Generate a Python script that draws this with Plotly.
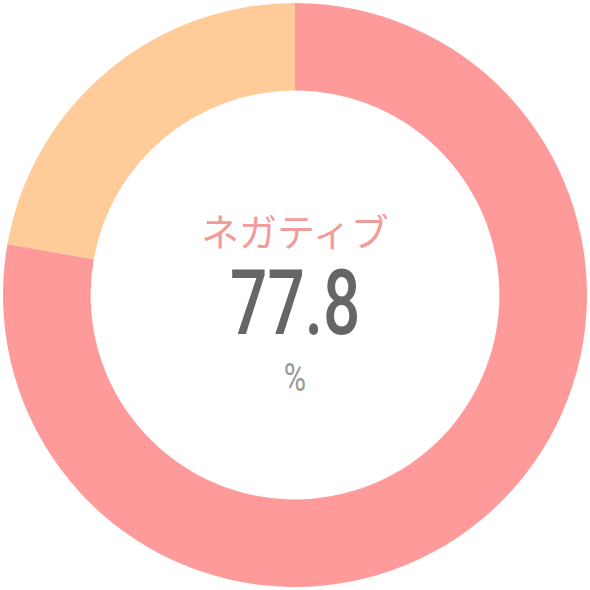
import plotly.graph_objects as go

labels = ["ネガティブ", "ポジティブ"]
values = [77.8, 22.2]
colors = ["#FF9A9A", "#FFCC99"]

fig = go.Figure(go.Pie(
    labels=labels,
    values=values,
    hole=0.70,
    sort=False,
    direction="clockwise",
    rotation=0,
    marker=dict(colors=colors, line=dict(width=0)),
    textinfo="none",
    hoverinfo="label+percent",
    showlegend=False,
    domain=dict(x=[0, 1], y=[0, 1]),
))

# center text
fig.add_annotation(text=labels[0], x=0.5, y=0.613, xref="paper", yref="paper",
                   showarrow=False, font=dict(family="Noto Sans CJK JP", size=38, color="#F29B9B"))
fig.add_annotation(text=f"{values[0]}", x=0.5, y=0.485, xref="paper", yref="paper",
                   showarrow=False, font=dict(family="Roboto", size=90, color="#666666", weight=500))
fig.add_annotation(text="%", x=0.5, y=0.358, xref="paper", yref="paper",
                   showarrow=False, font=dict(family="Roboto", size=38, color="#999999"))

fig.update_layout(
    width=590, height=590,
    margin=dict(l=3, r=3, t=3, b=3),
    paper_bgcolor="white",
    plot_bgcolor="white",
)

# no margin on the page, and squeeze the number text to look condensed
js = """
document.body.style.margin='0px';
var t = document.querySelectorAll('.annotation-text');
var sx = [1, 0.73, 0.8];
t.forEach(function(el, i){
  el.style.transformBox = 'fill-box';
  el.style.transformOrigin = 'center';
  el.style.transform = 'scaleX(' + sx[i] + ')';
});
"""
fig.write_html("out.html", config={"displayModeBar": False}, post_script=js)
